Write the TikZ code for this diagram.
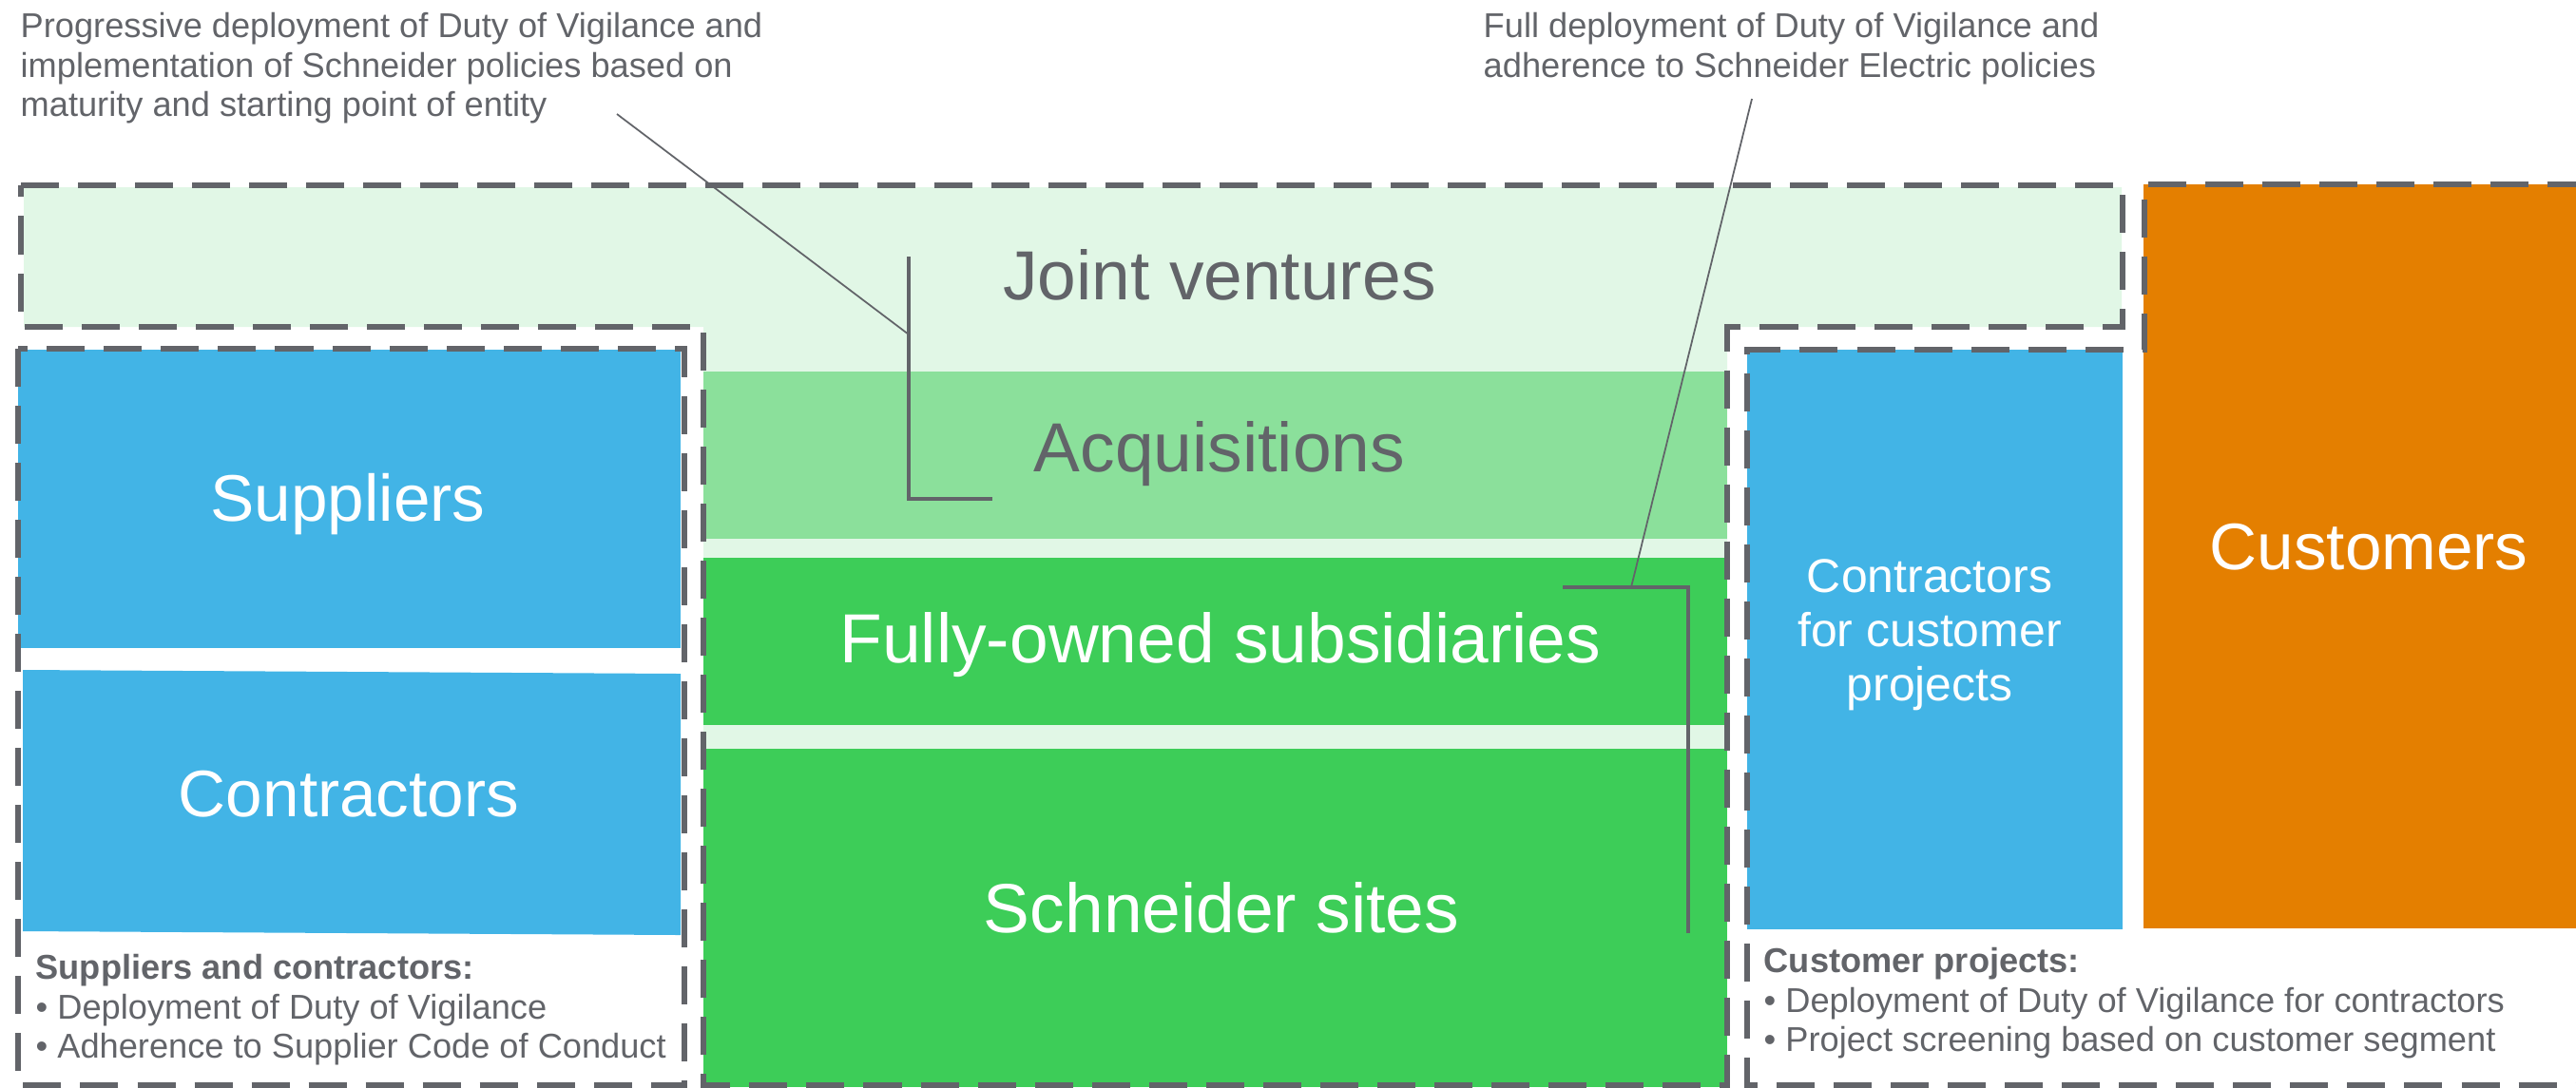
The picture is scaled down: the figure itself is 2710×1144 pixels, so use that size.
\documentclass[tikz,border=0pt]{standalone}
\usepackage{fontspec}
\setmainfont{Liberation Sans}
\usepackage{xcolor}
\usepackage{tikz}
\definecolor{segray}{HTML}{626469}
\definecolor{jvgreen}{HTML}{E1F7E6}
\definecolor{acqgreen}{HTML}{8BE09B}
\definecolor{segreen}{HTML}{3DCD58}
\definecolor{seblue}{HTML}{42B4E6}
\definecolor{seorange}{HTML}{E47F00}

\begin{document}
\begin{tikzpicture}[x=0.01cm,y=-0.01cm,
  dashbox/.style={draw=segray,line width=1.7pt,dash pattern=on 0.4cm off 0.2cm},
  bigtext/.style={font=\fontsize{20.8}{25}\selectfont,inner sep=0pt,anchor=base},
  sidetext/.style={font=\fontsize{19.7}{24}\selectfont,inner sep=0pt,anchor=base,text=white},
  note/.style={font=\fontsize{10.3}{11.7}\selectfont,text=segray,inner sep=0pt,align=left,anchor=north west},
  leader/.style={draw=segray,line width=0.5pt},
  bracket/.style={draw=segray,line width=1.1pt}]
\useasboundingbox (0,0) rectangle (2710,1144);
% joint ventures area
\fill[jvgreen] (25,197) -- (2232,197) -- (2232,344) -- (1817,344) -- (1817,1144) -- (740,1144) -- (740,344) -- (25,344) -- cycle;
\fill[acqgreen] (740,391) rectangle (1817,567);
\fill[segreen] (740,587) rectangle (1817,763);
\fill[segreen] (740,788) rectangle (1817,1144);
% suppliers and contractors
\fill[seblue] (19,368) rectangle (716,682);
\fill[seblue] (24,705) -- (716,709) -- (716,984) -- (24,980) -- cycle;
% customers
\fill[seblue] (1838,368) rectangle (2233,978);
\fill[seorange] (2255,194) rectangle (2710,977);
% dashed outlines
\draw[dashbox] (22,195) -- (2233,195) -- (2233,344) -- (1817,344) -- (1817,1142) -- (740,1142) -- (740,344) -- (22,344) -- cycle;
\draw[dashbox] (19,367) rectangle (720,1142);
\draw[dashbox] (2720,194) -- (2256,194) -- (2256,368) -- (1838,368) -- (1838,1142) -- (2720,1142);
% labels
\node[bigtext,text=segray] (jvlabel) at (1283,315) {Joint ventures};
\node[bigtext,text=segray] (acqlabel) at (1283,496) {Acquisitions};
\node[bigtext,text=white] (fulllabel) at (1284,697) {Fully-owned subsidiaries};
\node[bigtext,text=white] (siteslabel) at (1285,981) {Schneider sites};
\node[sidetext] (suplabel) at (366,548) {Suppliers};
\node[sidetext] (conlabel) at (367,859) {Contractors};
\node[sidetext] (custlabel) at (2492,599) {Customers};
\node[font=\fontsize{14.2}{16.2}\selectfont,text=white,inner sep=0pt,align=center] (projlabel) at (2030,668) {Contractors\\for customer\\projects};
% notes
\node[note] (prognote) at (21,13) {Progressive deployment of Duty of Vigilance and\\implementation of Schneider policies based on\\maturity and starting point of entity};
\node[note] (fullnote) at (1560,13) {Full deployment of Duty of Vigilance and\\adherence to Schneider Electric policies};
\node[note,font=\fontsize{10.3}{11.8}\selectfont] (supnote) at (37,1004) {\textbf{Suppliers and contractors:}\\• Deployment of Duty of Vigilance\\• Adherence to Supplier Code of Conduct};
\node[note,font=\fontsize{10.3}{11.8}\selectfont] (projnote) at (1855,997) {\textbf{Customer projects:}\\• Deployment of Duty of Vigilance for contractors\\• Project screening based on customer segment};
% leaders
\coordinate (progtip) at (649,120);
\coordinate (acqtop) at (956,270);
\coordinate (acqhit) at (956,352);
\coordinate (acqbot) at (956,525);
\coordinate (acqend) at (1044,525);
\draw[bracket] (acqtop) -- (acqbot) -- (acqend);
\draw[leader] (progtip) -- (acqhit);
\coordinate (fulltip) at (1843,104);
\coordinate (fullend) at (1644,618);
\coordinate (fullhit) at (1716,618);
\coordinate (fullcorner) at (1776,618);
\coordinate (fullbot) at (1776,982);
\draw[bracket] (fullend) -- (fullcorner) -- (fullbot);
\draw[leader] (fulltip) -- (fullhit);
\end{tikzpicture}
\end{document}
